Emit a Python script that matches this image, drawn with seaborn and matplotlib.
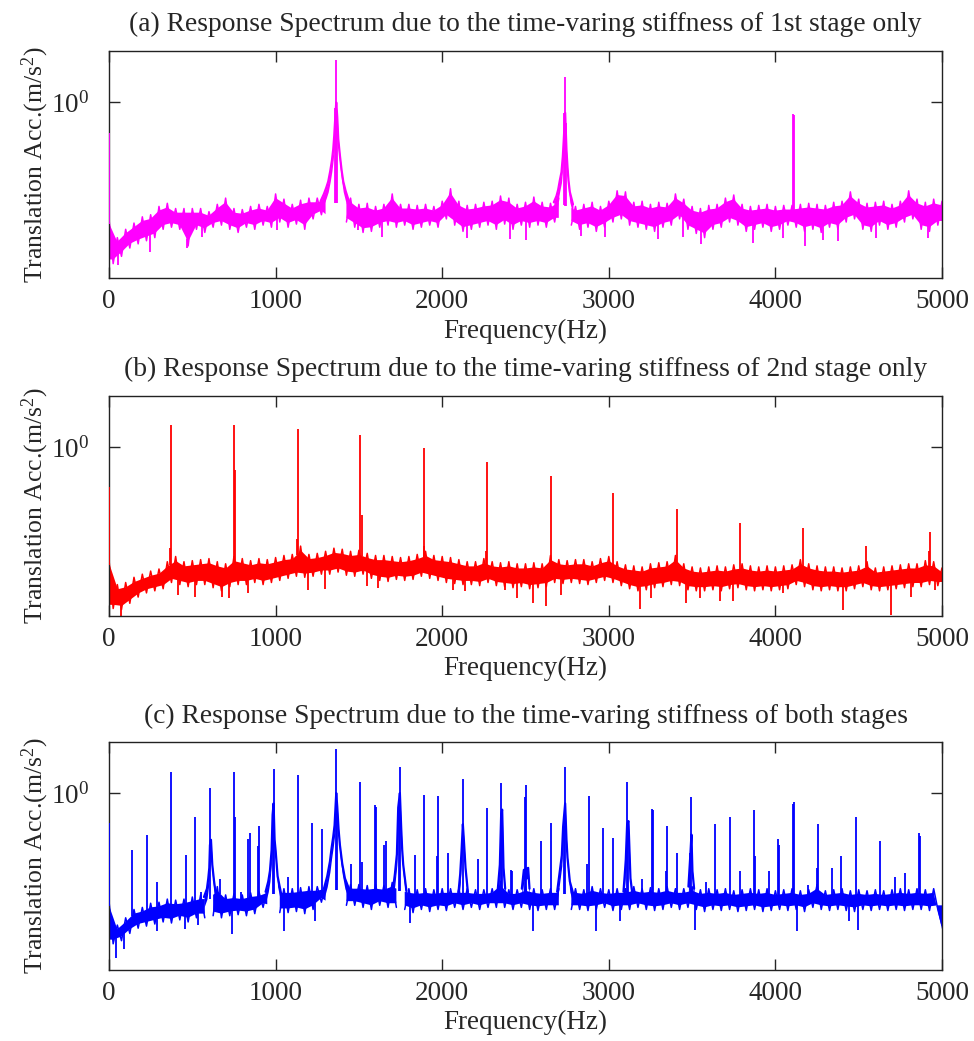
import numpy as np
import matplotlib
matplotlib.use("Agg")
import matplotlib.pyplot as plt
import seaborn as sns
from matplotlib.ticker import NullLocator, FixedLocator

# ---------------- data (log10 of acceleration, m/s^2) ----------------
# noise band: upper envelope at 0,50,...,5000 Hz, lower envelope at 25,75,...,4975 Hz
f_hi = list(range(0, 5001, 50))
f_lo = list(range(25, 5000, 50))

a_hi = [-1.12, -1.30, -1.22, -1.16, -1.10, -1.08, -1.00, -0.97, -1.02, -1.02,
        -1.02, -1.02, -1.05, -0.98, -0.92, -1.02, -1.03, -1.00, -0.98, -1.00,
        -0.88, -0.93, -0.98, -0.94, -0.92, -0.92, -0.90, -0.92, -0.92, -0.92,
        -0.98, -0.97, -1.00, -0.98, -0.88, -0.98, -0.98, -0.99, -0.98, -1.00,
        -0.95, -0.83, -0.95, -0.99, -0.98, -0.96, -0.95, -0.90, -0.92, -0.98,
        -0.96, -0.91, -0.96, -0.97, -0.92, -0.95, -1.00, -0.98, -0.96, -1.00,
        -0.95, -0.85, -0.86, -0.96, -0.95, -0.98, -0.96, -0.97, -0.88, -0.93,
        -1.00, -1.02, -0.99, -0.98, -0.92, -0.89, -0.98, -1.00, -0.99, -0.98,
        -1.00, -0.99, -0.99, -0.98, -0.97, -0.98, -0.99, -0.96, -0.95, -0.86,
        -0.93, -0.97, -0.96, -0.95, -0.98, -0.95, -0.85, -0.93, -0.96, -0.93,
        -0.95]
a_lo = [-1.55, -1.48, -1.40, -1.36, -1.33, -1.30, -1.22, -1.20, -1.22, -1.38,
        -1.22, -1.25, -1.20, -1.18, -1.22, -1.25, -1.20, -1.22, -1.18, -1.20,
        -1.15, -1.20, -1.17, -1.22, -1.12, -1.08, -1.15, -1.15, -1.15, -1.20,
        -1.25, -1.24, -1.20, -1.18, -1.20, -1.18, -1.22, -1.20, -1.18, -1.20,
        -1.12, -1.18, -1.24, -1.22, -1.20, -1.18, -1.22, -1.17, -1.22, -1.18,
        -1.20, -1.18, -1.20, -1.15, -1.15, -1.18, -1.22, -1.20, -1.24, -1.20,
        -1.15, -1.12, -1.18, -1.20, -1.22, -1.24, -1.20, -1.18, -1.12, -1.22,
        -1.26, -1.30, -1.22, -1.20, -1.15, -1.18, -1.24, -1.22, -1.20, -1.24,
        -1.22, -1.18, -1.20, -1.24, -1.22, -1.25, -1.20, -1.22, -1.15, -1.12,
        -1.22, -1.24, -1.18, -1.22, -1.20, -1.15, -1.12, -1.22, -1.24, -1.18]
a_gaps = [(1315, 1410), (2715, 2760)]
a_peak_f = [0, 1357, 1364, 1370, 2734, 2738, 2742, 4103, 4110]
a_peak_v = [-0.29, -0.05, 0.41, -0.14, -0.10, 0.24, -0.20, -0.11, -0.12]
a_skirts = [([1270, 1290, 1304, 1316, 1328, 1338, 1346, 1352, 1358, 1364, 1370,
              1376, 1386, 1396, 1406, 1420, 1434, 1450],
             [-0.95, -0.88, -0.82, -0.76, -0.66, -0.56, -0.45, -0.32, -0.15, 0.0,
              -0.14, -0.35, -0.51, -0.65, -0.76, -0.85, -0.92, -0.98]),
            ([2670, 2686, 2696, 2706, 2716, 2724, 2730, 2738, 2746, 2752, 2758,
              2766, 2785],
             [-0.96, -0.90, -0.84, -0.75, -0.67, -0.52, -0.35, -0.10, -0.46, -0.62,
              -0.75, -0.86, -0.98])]
a_dip_f = [56, 246, 470, 556, 1006, 1496, 1636, 2146, 2406, 2506, 2836, 2976,
           3296, 3446, 3556, 3866, 4046, 4176, 4286, 4376, 4606, 4916]
a_dip_v = [-1.56, -1.44, -1.40, -1.29, -1.23, -1.23, -1.29, -1.30, -1.31, -1.32,
           -1.28, -1.29, -1.31, -1.29, -1.36, -1.35, -1.30, -1.38, -1.32, -1.33,
           -1.30, -1.30]

b_hi = [-1.08, -1.32, -1.30, -1.25, -1.22, -1.19, -1.17, -1.10, -1.05, -1.10,
        -1.09, -1.08, -1.07, -1.10, -1.12, -1.05, -1.07, -1.09, -1.07, -1.08,
        -1.06, -1.04, -1.03, -0.95, -1.03, -1.02, -1.00, -0.97, -0.98, -1.00,
        -0.99, -1.02, -1.04, -1.04, -1.05, -1.06, -1.05, -1.03, -1.00, -1.04,
        -1.05, -1.06, -1.08, -1.10, -1.10, -1.07, -1.10, -1.11, -1.10, -1.12,
        -1.12, -1.11, -1.12, -1.04, -1.08, -1.09, -1.08, -1.08, -1.10, -1.07,
        -1.05, -1.10, -1.13, -1.14, -1.15, -1.12, -1.11, -1.10, -1.04, -1.12,
        -1.15, -1.16, -1.15, -1.14, -1.15, -1.13, -1.12, -1.14, -1.15, -1.14,
        -1.15, -1.14, -1.13, -1.08, -1.12, -1.14, -1.15, -1.15, -1.16, -1.15,
        -1.14, -1.10, -1.16, -1.15, -1.14, -1.13, -1.12, -1.12, -1.09, -1.10,
        -1.16]
b_lo = [-1.55, -1.56, -1.50, -1.44, -1.40, -1.38, -1.36, -1.30, -1.32, -1.34,
        -1.32, -1.32, -1.35, -1.38, -1.34, -1.32, -1.32, -1.30, -1.32, -1.30,
        -1.28, -1.26, -1.24, -1.25, -1.24, -1.22, -1.22, -1.20, -1.23, -1.24,
        -1.22, -1.26, -1.28, -1.29, -1.27, -1.28, -1.27, -1.24, -1.26, -1.28,
        -1.30, -1.31, -1.32, -1.32, -1.33, -1.30, -1.33, -1.34, -1.35, -1.34,
        -1.36, -1.35, -1.34, -1.30, -1.31, -1.30, -1.31, -1.32, -1.30, -1.28,
        -1.30, -1.33, -1.36, -1.38, -1.37, -1.35, -1.34, -1.32, -1.33, -1.37,
        -1.38, -1.38, -1.37, -1.38, -1.36, -1.35, -1.37, -1.38, -1.37, -1.38,
        -1.37, -1.36, -1.32, -1.34, -1.37, -1.38, -1.37, -1.38, -1.38, -1.36,
        -1.34, -1.37, -1.38, -1.37, -1.36, -1.35, -1.34, -1.34, -1.32, -1.33]
b_gaps = []
b_peak_f = [0, 368, 372, 750, 758, 1128, 1132, 1508, 1516, 1888, 1892, 2264,
            2268, 2652, 3026, 3410, 3786, 4166, 4546, 4920, 4926]
b_peak_v = [-0.38, -0.97, 0.21, 0.21, -0.22, -0.88, 0.18, 0.12, -0.65, -0.95,
            -0.01, -1.00, -0.14, -0.28, -0.44, -0.59, -0.73, -0.78, -0.95, -1.00,
            -0.81]
b_skirts = []
b_dip_f = [70, 416, 516, 676, 720, 836, 1196, 1296, 1546, 1616, 2066, 2136,
           2376, 2446, 2546, 2622, 2716, 3186, 3256, 3466, 3546, 3666, 3746,
           4046, 4406, 4696, 4816, 4956]
b_dip_v = [-1.63, -1.42, -1.44, -1.44, -1.45, -1.40, -1.37, -1.36, -1.33, -1.35,
           -1.37, -1.38, -1.37, -1.45, -1.50, -1.53, -1.42, -1.55, -1.45, -1.50,
           -1.45, -1.48, -1.48, -1.40, -1.56, -1.61, -1.44, -1.37]

c_hi = [-1.04, -1.27, -1.20, -1.12, -1.10, -1.06, -1.05, -1.02, -1.03, -1.02,
        -1.00, -0.98, -0.98, -0.90, -0.98, -0.97, -0.98, -0.96, -0.95, -0.92,
        -0.92, -0.92, -0.92, -0.91, -0.90, -0.90, -0.88, -0.88, -0.88, -0.88,
        -0.88, -0.89, -0.88, -0.89, -0.86, -0.90, -0.92, -0.93, -0.92, -0.93,
        -0.92, -0.92, -0.92, -0.92, -0.93, -0.93, -0.92, -0.85, -0.93, -0.93,
        -0.90, -0.92, -0.93, -0.92, -0.92, -0.92, -0.92, -0.93, -0.90, -0.92,
        -0.93, -0.92, -0.92, -0.90, -0.92, -0.91, -0.92, -0.90, -0.92, -0.92,
        -0.90, -0.93, -0.92, -0.93, -0.92, -0.94, -0.93, -0.92, -0.93, -0.92,
        -0.94, -0.93, -0.92, -0.94, -0.93, -0.88, -0.94, -0.93, -0.92, -0.94,
        -0.93, -0.94, -0.93, -0.94, -0.93, -0.92, -0.93, -0.92, -0.93, -0.92,
        -1.27]
c_lo = [-1.45, -1.42, -1.35, -1.30, -1.28, -1.26, -1.24, -1.25, -1.22, -1.24,
        -1.20, -1.20, -1.18, -1.20, -1.18, -1.17, -1.18, -1.16, -1.10, -1.12,
        -1.15, -1.15, -1.14, -1.16, -1.12, -1.05, -1.10, -1.10, -1.08, -1.08,
        -1.10, -1.12, -1.08, -1.10, -1.10, -1.12, -1.15, -1.12, -1.14, -1.12,
        -1.13, -1.10, -1.12, -1.10, -1.12, -1.10, -1.10, -1.10, -1.12, -1.10,
        -1.12, -1.13, -1.12, -1.12, -1.12, -1.12, -1.12, -1.13, -1.12, -1.10,
        -1.13, -1.12, -1.12, -1.10, -1.12, -1.13, -1.12, -1.10, -1.12, -1.10,
        -1.12, -1.14, -1.12, -1.13, -1.12, -1.14, -1.13, -1.12, -1.14, -1.13,
        -1.12, -1.13, -1.12, -1.14, -1.10, -1.12, -1.13, -1.12, -1.13, -1.14,
        -1.12, -1.13, -1.12, -1.13, -1.12, -1.13, -1.12, -1.12, -1.13, -1.12]
c_gaps = [(595, 620), (965, 1010), (1315, 1410), (1730, 1765), (2715, 2760)]
c_peak_f = [0, 140, 228, 286, 374, 460, 518, 550, 606, 666, 750, 754, 790,
            836, 846, 896, 902, 982, 988, 1076, 1132, 1220, 1278, 1364, 1370,
            1450, 1508, 1516, 1596, 1602, 1652, 1660, 1740, 1746, 1836, 1892,
            1970, 1976, 2036, 2124, 2212, 2268, 2354, 2360, 2412, 2420, 2496,
            2506, 2594, 2652, 2730, 2738, 2872, 2882, 2966, 3024, 3110, 3114,
            3198, 3258, 3266, 3346, 3352, 3410, 3490, 3496, 3582, 3640, 3726,
            3786, 3872, 3880, 3960, 4016, 4024, 4106, 4114, 4196, 4250, 4256,
            4340, 4396, 4486, 4630, 4716, 4776, 4862, 4870]
c_peak_v = [-0.29, -0.55, -0.40, -0.86, 0.20, -0.60, -0.23, -0.95, 0.05, -0.83,
            0.20, -0.23, -0.95, -0.44, -0.38, -0.51, -0.32, -0.21, 0.23, -0.81,
            0.17, -0.29, -0.35, 0.42, -0.13, -0.68, 0.11, -0.66, -0.12, -0.13,
            -0.50, -0.46, -0.14, 0.25, -0.60, -0.02, -0.61, -0.03, -0.58, 0.13,
            -0.63, -0.14, 0.10, -0.16, -0.74, -0.75, -0.04, 0.08, -0.46, -0.29,
            -0.32, 0.25, -0.68, -0.03, -0.34, -0.43, 0.11, -0.27, -0.83, -0.15,
            -0.16, -0.75, -0.32, -0.58, -0.58, -0.04, -0.86, -0.30, -0.23, -0.75,
            -0.16, -0.61, -0.75, -0.44, -0.50, -0.11, -0.09, -0.88, -0.72, -0.30,
            -0.72, -0.61, -0.23, -0.46, -0.81, -0.77, -0.38, -0.41]
c_skirts = [([570, 588, 596, 602, 606, 612, 620, 630, 640],
             [-1.00, -0.92, -0.82, -0.72, -0.50, -0.45, -0.69, -0.84, -0.96]),
            ([940, 956, 966, 976, 982, 988, 994, 1000, 1012, 1032],
             [-0.95, -0.85, -0.75, -0.55, -0.21, -0.10, -0.45, -0.55, -0.80, -0.96]),
            ([1290, 1310, 1326, 1336, 1346, 1354, 1364, 1370, 1378, 1386, 1400,
              1416, 1440],
             [-0.92, -0.80, -0.66, -0.53, -0.42, -0.31, 0.0, -0.13, -0.35, -0.50,
              -0.68, -0.82, -0.92]),
            ([1705, 1716, 1728, 1736, 1746, 1754, 1760, 1766, 1785],
             [-0.92, -0.78, -0.59, -0.14, 0.0, -0.34, -0.55, -0.69, -0.94]),
            ([2098, 2108, 2116, 2124, 2130, 2140, 2154],
             [-0.95, -0.78, -0.56, -0.30, -0.45, -0.72, -0.95]),
            ([2334, 2346, 2354, 2360, 2368, 2378],
             [-0.92, -0.69, -0.20, -0.16, -0.72, -0.92]),
            ([2478, 2490, 2516, 2524], [-0.92, -0.74, -0.72, -0.92]),
            ([2690, 2706, 2718, 2726, 2738, 2746, 2752, 2766, 2785],
             [-0.95, -0.75, -0.60, -0.32, -0.10, -0.45, -0.62, -0.85, -0.96]),
            ([3088, 3096, 3102, 3110, 3118, 3130, 3140],
             [-0.95, -0.78, -0.64, -0.30, -0.27, -0.82, -0.95]),
            ([3478, 3490, 3496, 3502, 3512], [-0.90, -0.58, -0.40, -0.75, -0.92])]
c_dip_f = [40, 90, 290, 456, 536, 740, 1050, 1236, 1806, 2546, 2926, 3066,
           3516, 4130, 4440, 4496]
c_dip_v = [-1.59, -1.50, -1.33, -1.31, -1.27, -1.36, -1.33, -1.23, -1.25, -1.33,
           -1.33, -1.23, -1.32, -1.33, -1.23, -1.32]

titles = ["(a) Response Spectrum due to the time-varing stiffness of 1st stage only",
          "(b) Response Spectrum due to the time-varing stiffness of 2nd stage only",
          "(c) Response Spectrum due to the time-varing stiffness of both stages"]
colors = ["#FF00FF", "#FF0000", "#0000FF"]
xticks = [0, 1000, 2000, 3000, 4000, 5000]
xlabel = "Frequency(Hz)"
ylabel = r"Translation Acc.(m/s$\mathregular{^2}$)"

# ---------------- layout ----------------
W, H = 974, 1041
boxes = [(50.7, 278.3), (395.7, 616.0), (742.3, 969.7)]
ylims = [(-1.691, 0.497), (-1.622, 0.496), (-1.699, 0.4875)]
left_px, right_px = 109, 942

sns.set_style("ticks")
plt.rcParams["font.family"] = ["Liberation Serif", "DejaVu Serif"]
plt.rcParams["mathtext.fontset"] = "custom"
plt.rcParams["mathtext.rm"] = "Liberation Serif"
plt.rcParams["axes.linewidth"] = 1.0

fig = plt.figure(figsize=(W / 100, H / 100), dpi=100)

panels = [(a_hi, a_lo, a_gaps, a_peak_f, a_peak_v, a_skirts, a_dip_f, a_dip_v),
          (b_hi, b_lo, b_gaps, b_peak_f, b_peak_v, b_skirts, b_dip_f, b_dip_v),
          (c_hi, c_lo, c_gaps, c_peak_f, c_peak_v, c_skirts, c_dip_f, c_dip_v)]


def in_gap(f, gaps):
    return any(g0 < f < g1 for g0, g1 in gaps)


for i, (hi, lo, gaps, pf, pv, sk, df, dv) in enumerate(panels):
    top, bot = boxes[i]
    ax = fig.add_axes([left_px / W, 1 - bot / H, (right_px - left_px) / W, (bot - top) / H])
    col = colors[i]
    hi_a = np.array(hi)
    lo_a = np.array(lo)

    # zig-zag noise trace: upper and lower envelope samples interleaved
    zx = np.array(sorted(f_hi + f_lo), dtype=float)
    lookup = dict(zip(f_hi, hi))
    lookup.update(dict(zip(f_lo, lo)))
    zy = np.array([lookup[int(x)] for x in zx])
    keep = np.array([not in_gap(x, gaps) for x in zx])

    # solid core of the band
    core_top = np.interp(zx, f_hi, hi_a) - 0.04
    core_bot = np.interp(zx, f_lo, lo_a) + 0.04
    ax.fill_between(zx, 10 ** core_bot, 10 ** core_top, where=keep,
                    color=col, lw=0, interpolate=False)

    # draw the zig-zag in contiguous runs (broken at resonance gaps)
    run = []
    for x, y, k in zip(zx, zy, keep):
        if k:
            run.append((x, y))
        elif run:
            sns.lineplot(x=[p[0] for p in run], y=[10 ** p[1] for p in run], ax=ax,
                         color=col, lw=1.1, estimator=None, sort=False)
            run = []
    if run:
        sns.lineplot(x=[p[0] for p in run], y=[10 ** p[1] for p in run], ax=ax,
                     color=col, lw=1.1, estimator=None, sort=False)

    # resonance skirts (thick noisy skirt near the base)
    for sf, sv in sk:
        sv_a = np.array(sv)
        ax.fill_between(sf, 10 ** (sv_a - 0.10), 10 ** sv_a, color=col, lw=0)
        sns.lineplot(x=sf, y=[10 ** v for v in sv], ax=ax, color=col, lw=1.6,
                     estimator=None, sort=False)
    # sharp peaks
    base_hi = np.interp(pf, f_hi, hi_a) - 0.05
    ax.vlines(pf, 10 ** base_hi, 10 ** np.array(pv), color=col, lw=1.3, zorder=3)
    # downward dips
    base_lo = np.interp(df, f_lo, lo_a) + 0.05
    ax.vlines(df, 10 ** np.array(dv), 10 ** base_lo, color=col, lw=1.3)

    ax.set_yscale("log")
    ax.set_xlim(0, 5000)
    ax.set_ylim(10 ** ylims[i][0], 10 ** ylims[i][1])
    ax.xaxis.set_major_locator(FixedLocator(xticks))
    ax.set_xticklabels([str(t) for t in xticks])
    ax.yaxis.set_major_locator(FixedLocator([1.0]))
    ax.yaxis.set_minor_locator(NullLocator())
    ax.set_yticklabels([r"$\mathregular{10^0}$"])
    ax.tick_params(axis="both", direction="in", length=8, width=1.0,
                   top=True, right=True, labelsize=19.5)
    ax.tick_params(axis="x", pad=8)
    ax.tick_params(axis="y", pad=14)
    for s in ax.spines.values():
        s.set_visible(True)
        s.set_color("#222222")
    ax.set_xlabel(xlabel, fontsize=19.5, labelpad=3)
    ax.set_ylabel(ylabel, fontsize=18.5)
    ax.yaxis.set_label_coords(-0.070, 0.5)
    ax.set_title(titles[i], fontsize=19.8, pad=14)

fig.savefig("out.png", dpi=100)
